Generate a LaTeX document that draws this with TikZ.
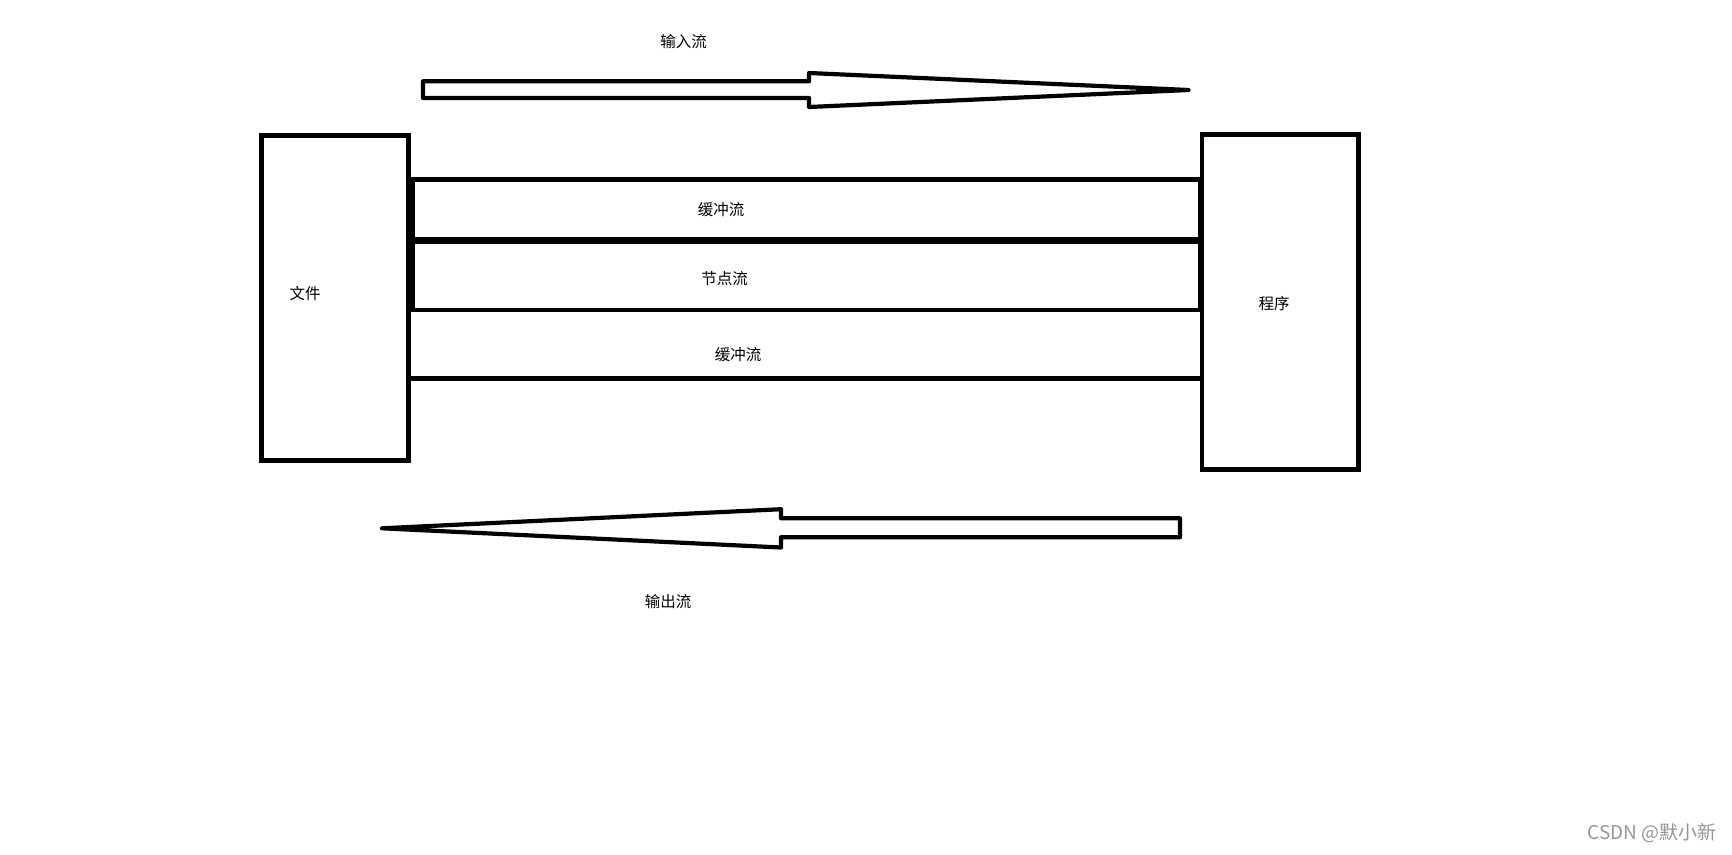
\documentclass[tikz,border=0pt]{standalone}
\usepackage{fontspec}
\newfontfamily\cjk{Noto Sans CJK SC}
\definecolor{markgray}{RGB}{150,150,150}

\begin{document}
\begin{tikzpicture}[
    x=1pt, y=-1pt,
    box/.style={
        draw,
        rectangle,
        line width=4.5pt,
        line join=miter,
        inner sep=0pt
    },
    flow/.style={
        draw,
        line width=4.2pt,
        line join=round
    },
    cjktext/.style={
        inner sep=0pt,
        font=\cjk\fontsize{15.5}{18}\selectfont
    }
]
    \useasboundingbox (0,0) rectangle (1732,854);

    % Nodes
    \node[box, minimum width=147pt, minimum height=325pt] (file) at (335,298) {};
    \node[box, minimum width=156.5pt, minimum height=334.7pt] (prog) at (1280.25,301.95) {};

    \node[box, minimum width=787pt, minimum height=59.2pt] (buftop) at (806.5,209.3) {};
    \node[box, minimum width=787pt, minimum height=68.3pt] (nodeflow) at (806.5,275.85) {};
    \node[box, minimum width=793.5pt, minimum height=68.3pt] (bufbot) at (805.25,344.15) {};

    % Labels
    \node[cjktext] (inlbl) at (683.5,42) {输入流};
    \node[cjktext] (buftoplbl) at (721,210) {缓冲流};
    \node[cjktext] (nodelbl) at (724.6,278.4) {节点流};
    \node[cjktext] (bufbotlbl) at (738,354.6) {缓冲流};
    \node[cjktext] (filelbl) at (305,293.5) {文件};
    \node[cjktext] (proglbl) at (1274,303.5) {程序};
    \node[cjktext] (outlbl) at (668,602) {输出流};
    \node[inner sep=0pt, text=markgray, font=\cjk\fontsize{19}{22}\selectfont] (mark) at (1652,833) {CSDN @默小新};

    % Arrows
    \draw[flow] (423,81.3) -- (809,81.3) -- (809,73) -- (1188.5,90)
        -- (809,107) -- (809,98) -- (423,98) -- cycle;
    \draw[flow] (1180,518.3) -- (781,518.3) -- (781,509.2) -- (382,528.3)
        -- (781,547.5) -- (781,537.2) -- (1180,537.2) -- cycle;

\end{tikzpicture}
\end{document}
